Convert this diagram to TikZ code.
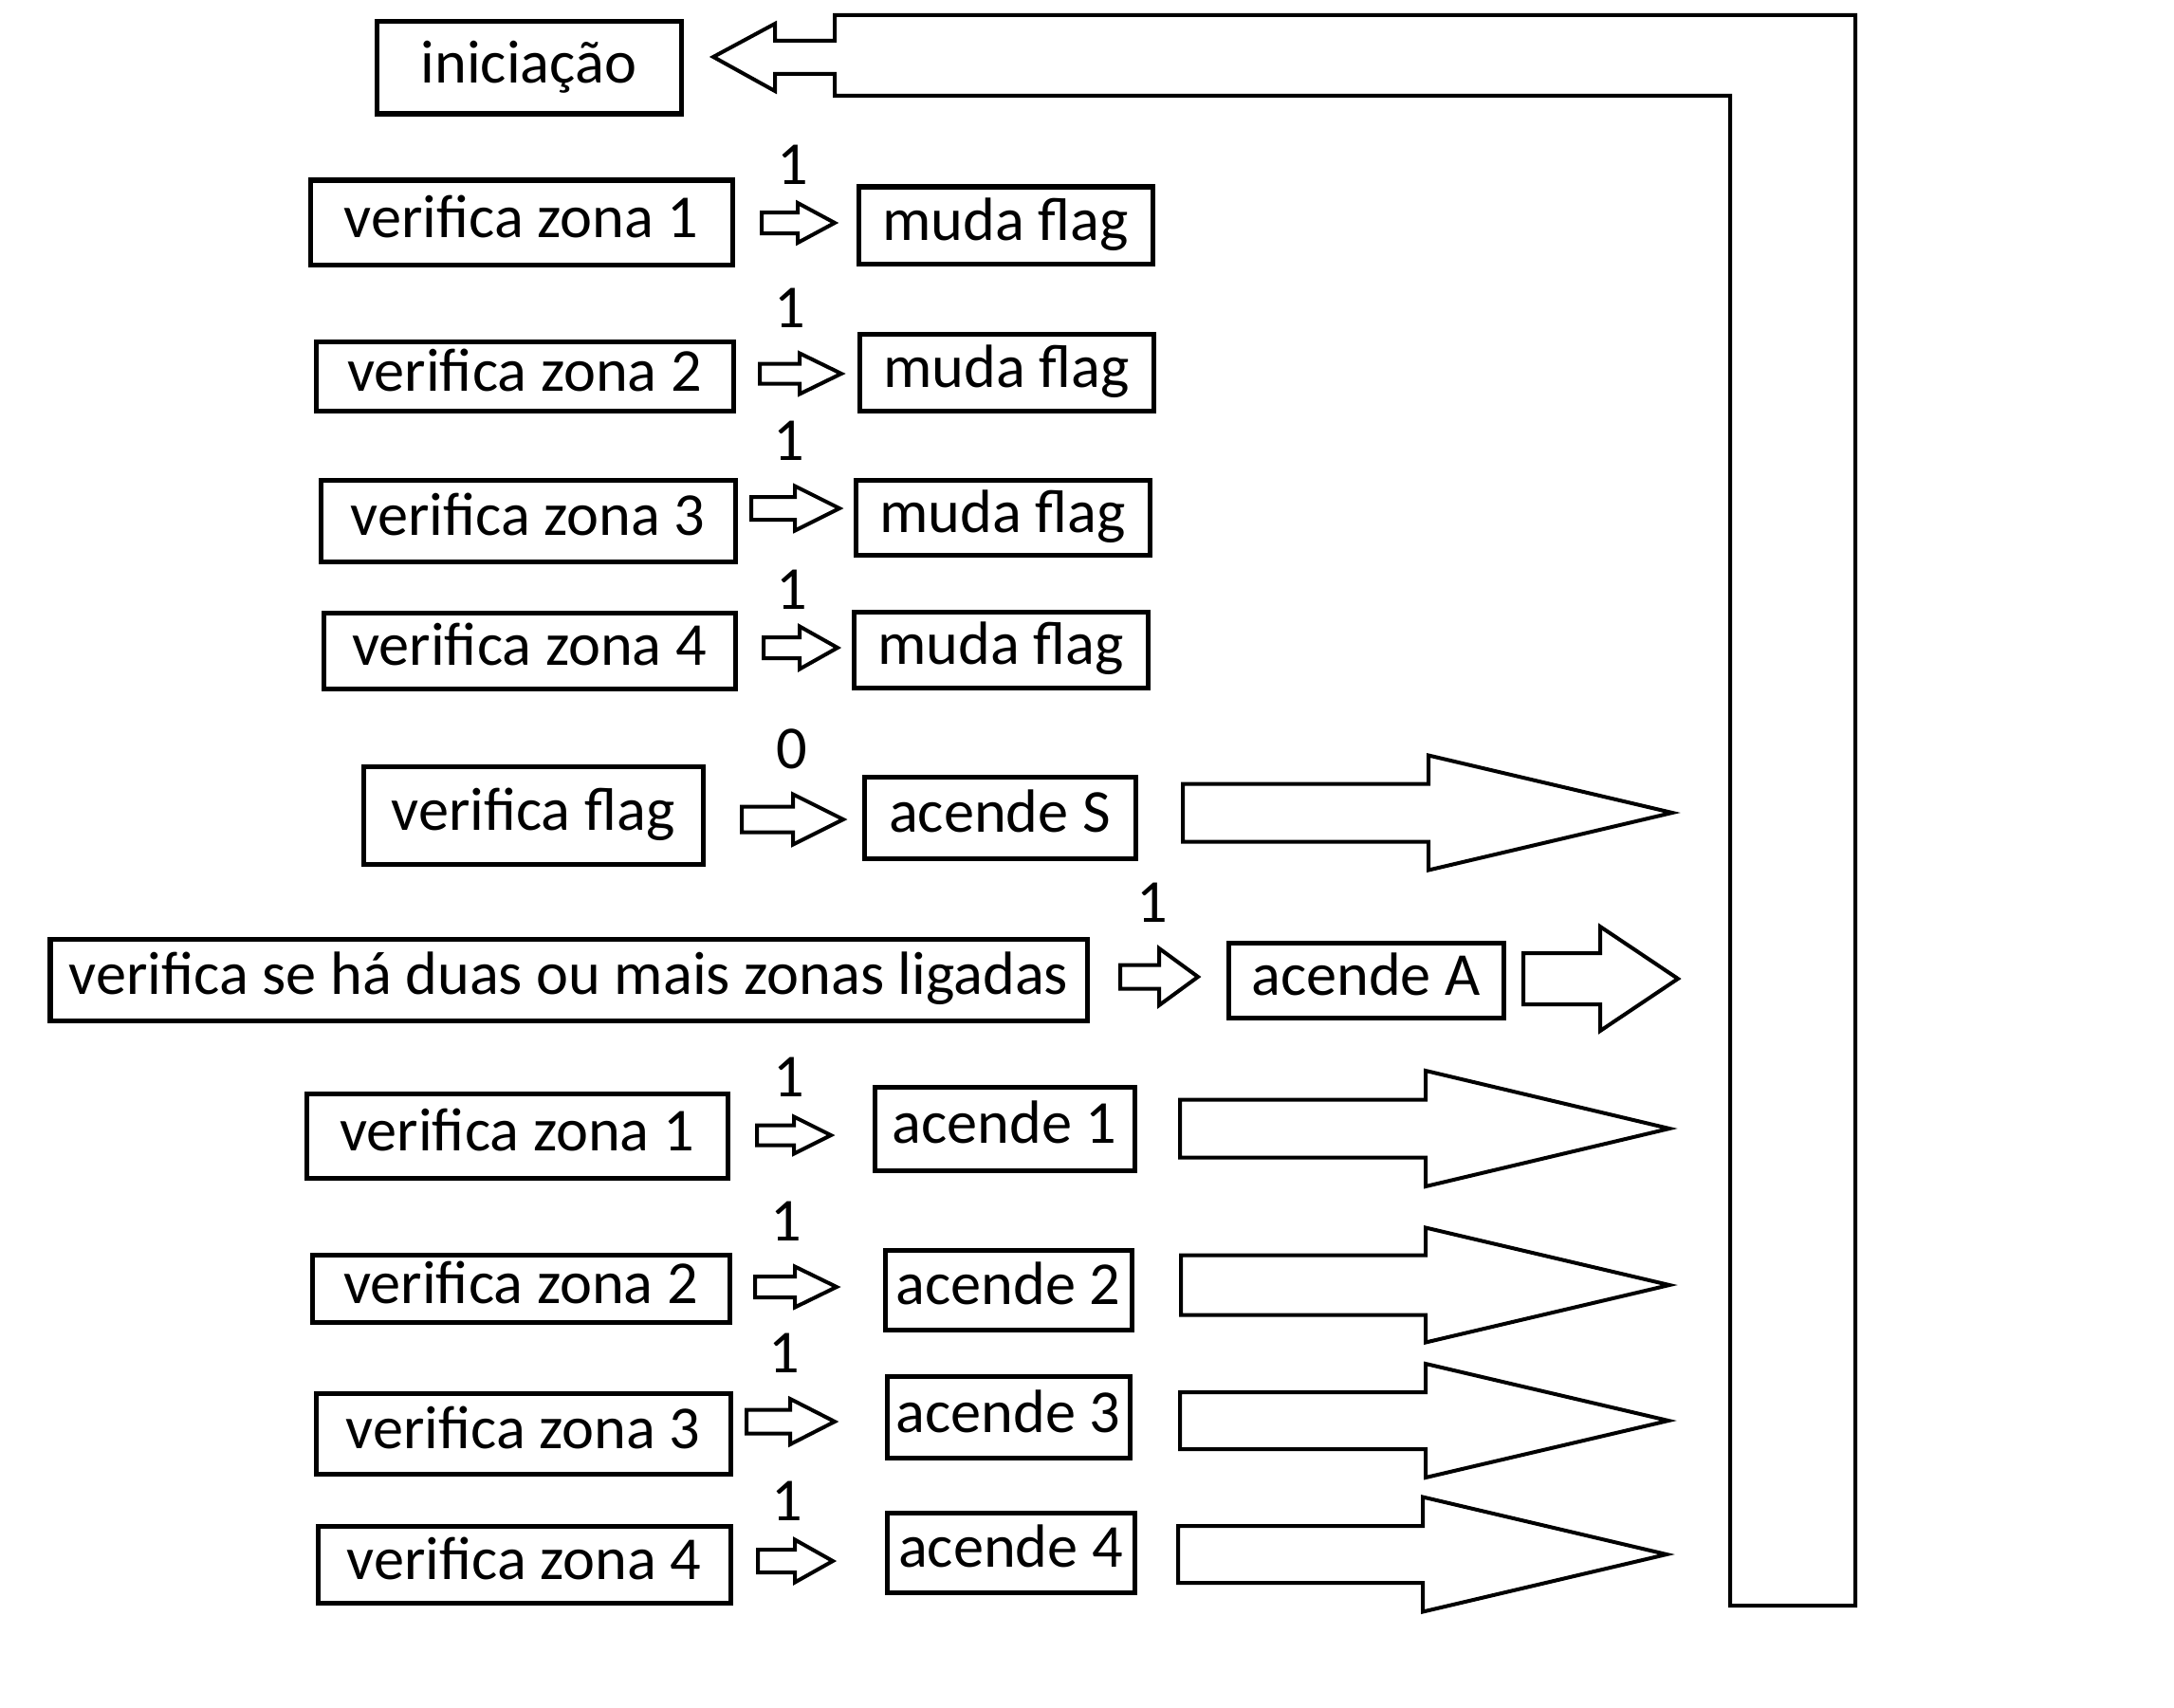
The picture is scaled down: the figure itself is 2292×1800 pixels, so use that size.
\documentclass[tikz,border=0pt]{standalone}
\usepackage{fontspec}
\setmainfont{Carlito}
\newcommand\blockarr[6]{\draw[arr] (#1,#4-#5) -- (#2,#4-#5) -- (#2,#4-#6) -- (#3,#4) -- (#2,#4+#6) -- (#2,#4+#5) -- (#1,#4+#5) -- cycle;}
\begin{document}
\begin{tikzpicture}[x=0.01cm,y=-0.01cm,
  box/.style={draw, line width=0.05cm, inner sep=0pt, align=center,
    font=\fontsize{18.3}{22}\selectfont, text height=0.95em, text depth=0.05em},
  lbl/.style={inner sep=0pt, anchor=base, font=\fontsize{18.3}{22}\selectfont},
  arr/.style={draw, line width=0.04cm, line join=miter}]
\useasboundingbox (0,0) rectangle (2292,1800);

% boxes
\node[box, minimum width=321*0.01cm, minimum height=97*0.01cm] (ini) at (557.5,71.5) {iniciação};
\node[box, minimum width=445*0.01cm, minimum height=89*0.01cm] (vza) at (549.5,234.5) {verifica zona 1};
\node[box, minimum width=310*0.01cm, minimum height=81*0.01cm] (mfa) at (1060,237.5) {muda flag};
\node[box, minimum width=440*0.01cm, minimum height=73*0.01cm] (vzb) at (553,396.5) {verifica zona 2};
\node[box, minimum width=310*0.01cm, minimum height=81*0.01cm] (mfb) at (1061,392.5) {muda flag};
\node[box, minimum width=437*0.01cm, minimum height=86*0.01cm] (vzc) at (556.5,549) {verifica zona 3};
\node[box, minimum width=310*0.01cm, minimum height=79*0.01cm] (mfc) at (1057,545.5) {muda flag};
\node[box, minimum width=434*0.01cm, minimum height=80*0.01cm] (vzd) at (558,686) {verifica zona 4};
\node[box, minimum width=310*0.01cm, minimum height=80*0.01cm] (mfd) at (1055,685) {muda flag};
\node[box, minimum width=358*0.01cm, minimum height=103*0.01cm] (vfl) at (562,859.5) {verifica flag};
\node[box, minimum width=286*0.01cm, minimum height=86*0.01cm] (acS) at (1054,862) {acende S};
\node[box, minimum width=1093*0.01cm, minimum height=86*0.01cm] (vse) at (599.5,1033) {verifica se há duas ou mais zonas ligadas};
\node[box, minimum width=290*0.01cm, minimum height=79*0.01cm] (acA) at (1440,1033.5) {acende A};
\node[box, minimum width=444*0.01cm, minimum height=89*0.01cm] (vze) at (545,1197.5) {verifica zona 1};
\node[box, minimum width=274*0.01cm, minimum height=88*0.01cm] (ac1) at (1059,1190) {acende 1};
\node[box, minimum width=440*0.01cm, minimum height=71*0.01cm] (vzf) at (549,1358.5) {verifica zona 2};
\node[box, minimum width=260*0.01cm, minimum height=84*0.01cm] (ac2) at (1063,1360) {acende 2};
\node[box, minimum width=437*0.01cm, minimum height=85*0.01cm] (vzg) at (551.5,1511.5) {verifica zona 3};
\node[box, minimum width=256*0.01cm, minimum height=86*0.01cm] (ac3) at (1063,1494.5) {acende 3};
\node[box, minimum width=435*0.01cm, minimum height=81*0.01cm] (vzh) at (552.5,1649.5) {verifica zona 4};
\node[box, minimum width=261*0.01cm, minimum height=84*0.01cm] (ac4) at (1065.5,1637) {acende 4};

% labels
\node[lbl] (la) at (836,194) {1};
\node[lbl] (lb) at (833,345) {1};
\node[lbl] (lc) at (832,485) {1};
\node[lbl] (ld) at (835,642) {1};
\node[lbl] (le) at (835,810) {0};
\node[lbl] (lf) at (1215,972) {1};
\node[lbl] (lg) at (832,1156) {1};
\node[lbl] (lh) at (829,1308) {1};
\node[lbl] (li) at (827,1447) {1};
\node[lbl] (lj) at (830,1603) {1};

% small block arrows
\blockarr{803}{841}{880}{235}{11}{21}
\blockarr{801}{843}{887}{394}{10.5}{21.5}
\blockarr{792}{838}{885}{536}{12}{23.5}
\blockarr{805}{843}{883}{683}{11}{22.5}
\blockarr{782}{836}{889}{864}{13.5}{26.5}
\blockarr{1181}{1222}{1263}{1030}{12.5}{30}
\blockarr{798}{837}{876}{1197}{10.5}{19.5}
\blockarr{796}{838}{882}{1357}{11}{21.5}
\blockarr{787}{833}{880}{1499}{12.5}{24}
\blockarr{799}{838}{878}{1646}{12}{22.5}

% big block arrows
\blockarr{1247}{1506}{1763}{857}{30.5}{60.5}
\blockarr{1606}{1687}{1769}{1032}{27}{55}
\blockarr{1244}{1503}{1760}{1190}{30.5}{61}
\blockarr{1245}{1503}{1760}{1355}{31.5}{60.5}
\blockarr{1244}{1503}{1759}{1498}{30}{60}
\blockarr{1242}{1500}{1757}{1639}{30}{60.5}

% loop back arrow
\draw[arr] (752,60) -- (817,25) -- (817,43) -- (880,43) -- (880,16) -- (1956,16)
  -- (1956,1693) -- (1824,1693) -- (1824,101) -- (880,101) -- (880,78)
  -- (817,78) -- (817,96) -- cycle;
\end{tikzpicture}
\end{document}
